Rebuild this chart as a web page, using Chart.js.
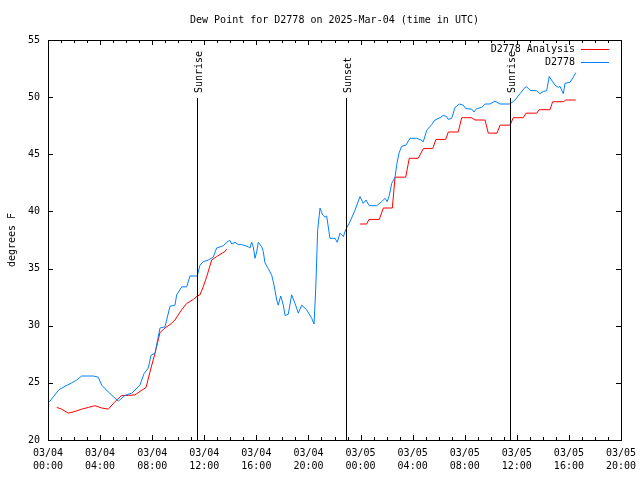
<!DOCTYPE html>
<html>
<head>
<meta charset="utf-8">
<script src="https://cdn.jsdelivr.net/npm/chart.js@4/dist/chart.umd.min.js"></script>
<style>
  html, body { margin: 0; padding: 0; background: #fff; }
  #wrap { width: 640px; height: 480px; }
</style>
</head>
<body>
<div id="wrap"><canvas id="dewChart" width="640" height="480"></canvas></div>
<script>
// hours since 03/04 00:00 UTC
var obsHours = [0.08, 0.84, 1.31, 1.82, 2.2, 2.59, 3.48, 3.86, 4.12, 4.63, 5.4, 5.91, 6.43, 7.06, 7.37, 7.7, 7.91, 8.22, 8.6, 8.98,
    9.37, 9.75, 9.88, 10.27, 10.65, 10.9, 11.46, 11.67, 11.92, 12.31, 12.69, 12.95, 13.21, 13.46, 13.84, 13.98, 14.11, 14.36, 14.61, 14.87,
    15.13, 15.38, 15.51, 15.64, 15.76, 15.9, 16.03, 16.15, 16.41, 16.53, 16.66, 16.92, 17.18, 17.3, 17.43, 17.56, 17.68, 17.87, 18.07, 18.2,
    18.45, 18.71, 18.97, 19.22, 19.48, 19.86, 20.25, 20.43, 20.56, 20.71, 20.89, 21.09, 21.27, 21.4, 21.65, 22.04, 22.21, 22.42, 22.68, 22.86,
    23.19, 23.57, 23.96, 24.21, 24.42, 24.67, 25.24, 25.62, 25.88, 26.05, 26.21, 26.39, 26.65, 26.78, 26.95, 27.16, 27.49, 27.8, 28.31, 28.64,
    28.82, 29.08, 29.46, 29.72, 30.1, 30.35, 30.61, 30.74, 31.0, 31.25, 31.58, 31.89, 32.07, 32.53, 32.71, 32.92, 33.3, 33.56, 33.94, 34.32,
    34.71, 35.48, 35.86, 36.24, 36.63, 36.76, 37.01, 37.53, 37.78, 38.03, 38.29, 38.49, 38.75, 38.93, 39.18, 39.31, 39.57, 39.7, 40.08, 40.34,
    40.52];
var obsDew = [23.3, 24.4, 24.7, 25.0, 25.25, 25.6, 25.6, 25.5, 24.8, 24.2, 23.4, 23.9, 24.1, 24.8, 25.8, 26.3, 27.4, 27.6, 29.8, 29.9,
    31.7, 31.8, 32.7, 33.4, 33.4, 34.35, 34.35, 35.3, 35.6, 35.75, 36.0, 36.8, 36.9, 37.0, 37.4, 37.45, 37.15, 37.3, 37.1, 37.1,
    37.0, 36.9, 36.8, 37.3, 36.9, 35.9, 36.5, 37.3, 36.9, 36.5, 35.5, 35.0, 34.4, 33.85, 33.1, 32.25, 31.8, 32.6, 31.8, 30.9,
    31.0, 32.7, 31.95, 31.1, 31.8, 31.4, 30.65, 30.15, 33.3, 38.4, 40.3, 39.7, 39.5, 39.6, 37.65, 37.65, 37.3, 38.1, 37.8, 38.4,
    39.1, 40.1, 41.3, 40.7, 41.0, 40.5, 40.5, 40.85, 41.15, 40.85, 41.4, 42.45, 43.0, 44.1, 45.1, 45.7, 45.8, 46.4, 46.4, 46.25,
    46.1, 47.1, 47.6, 48.0, 48.2, 48.4, 48.3, 48.05, 48.15, 49.1, 49.4, 49.3, 49.0, 48.95, 48.7, 49.0, 49.1, 49.4, 49.4, 49.65,
    49.4, 49.4, 49.75, 50.3, 50.85, 50.9, 50.6, 50.55, 50.3, 50.5, 50.55, 51.8, 51.35, 51.05, 50.85, 50.95, 50.3, 51.2, 51.3, 51.75,
    52.15];

var anaHours = [0.67, 1.05, 1.56, 2.07, 2.59, 3.09, 3.61, 4.12, 4.63, 5.14, 5.66, 6.17, 6.68, 7.06, 7.53, 7.91, 8.22, 8.6, 8.98, 9.37,
    9.75, 10.14, 10.65, 11.16, 11.46, 11.67, 11.92, 12.19, 12.57, 12.95, 13.59, 13.72, 18.0,
    23.96, 24.47, 24.65, 25.44, 25.75, 26.44, 26.65, 27.47, 27.74, 28.43, 28.82, 29.54, 29.79, 30.54, 30.74, 31.5, 31.77, 32.53,
    32.79, 33.56, 33.81, 34.48, 34.71, 35.48, 35.73, 36.5, 36.7, 37.53, 37.73, 38.55, 38.75, 39.57, 39.77, 40.52];
var anaDew = [22.85, 22.7, 22.35, 22.5, 22.7, 22.85, 23.0, 22.8, 22.7, 23.35, 23.9, 23.9, 23.95, 24.25, 24.6, 26.3, 27.6, 29.4, 29.8, 30.1,
    30.5, 31.2, 31.95, 32.3, 32.6, 32.7, 33.4, 34.3, 35.75, 36.05, 36.5, 36.7, null,
    38.9, 38.9, 39.3, 39.3, 40.3, 40.3, 43.0, 43.0, 44.65, 44.65, 45.5, 45.5, 46.3, 46.3, 46.95, 46.95, 48.2, 48.2,
    48.0, 48.0, 46.85, 46.85, 47.55, 47.55, 48.2, 48.2, 48.6, 48.6, 48.9, 48.9, 49.6, 49.6, 49.75, 49.75];

var tickDates = ['03/04', '03/04', '03/04', '03/04', '03/04', '03/04', '03/05', '03/05', '03/05', '03/05', '03/05', '03/05'];
var tickTimes = ['00:00', '04:00', '08:00', '12:00', '16:00', '20:00', '00:00', '04:00', '08:00', '12:00', '16:00', '20:00'];

var sunHours = [11.45, 22.85, 35.5];
var sunLabels = ['Sunrise', 'Sunset', 'Sunrise'];

var seriesNames = ['D2778 Analysis', 'D2778'];
var seriesColors = ['#ff0000', '#0080ff'];

var chartTitle = 'Dew Point for D2778 on 2025-Mar-04 (time in UTC)';
var monoFont = '"DejaVu Sans Mono", "Liberation Mono", monospace';

function toPoints(xs, ys){
    var pts = [];
    for (var i = 0; i < xs.length; i++) {
        pts.push({x: xs[i], y: ys[i]});
    }
    return pts;
}

// border, inward ticks, sun lines, legend, title
var gnuplotBits = {
    id: 'gnuplotBits',
    afterDatasetsDraw: function(chart){
        var ctx = chart.ctx;
        var a = chart.chartArea;
        var xs = chart.scales.x;
        var ys = chart.scales.y;
        ctx.save();
        ctx.strokeStyle = '#000';
        ctx.lineWidth = 1;

        // sunrise / sunset markers
        ctx.font = '10px ' + monoFont;
        ctx.fillStyle = '#000';
        for (var s = 0; s < sunHours.length; s++) {
            var sx = Math.round(xs.getPixelForValue(sunHours[s])) + 0.5;
            ctx.beginPath();
            ctx.moveTo(sx, a.top + 58);
            ctx.lineTo(sx, a.bottom);
            ctx.stroke();
            ctx.save();
            ctx.translate(sx + 4, a.top + 53);
            ctx.rotate(-Math.PI / 2);
            ctx.textAlign = 'left';
            ctx.textBaseline = 'alphabetic';
            ctx.fillText(sunLabels[s], 0, 0);
            ctx.restore();
        }

        // frame
        ctx.strokeRect(Math.round(a.left) + 0.5, Math.round(a.top) + 0.5,
            Math.round(a.right - a.left), Math.round(a.bottom - a.top));

        // x ticks, hourly minor, 4-hourly major
        ctx.beginPath();
        for (var h = xs.min; h <= xs.max; h++) {
            var px = Math.round(xs.getPixelForValue(h)) + 0.5;
            var len = (h % 4 === 0) ? 5 : 3;
            ctx.moveTo(px, a.bottom);
            ctx.lineTo(px, a.bottom - len);
            ctx.moveTo(px, a.top);
            ctx.lineTo(px, a.top + len);
        }
        // y ticks both sides
        for (var v = ys.min; v <= ys.max; v += 5) {
            var py = Math.round(ys.getPixelForValue(v)) + 0.5;
            ctx.moveTo(a.left, py);
            ctx.lineTo(a.left + 5, py);
            ctx.moveTo(a.right, py);
            ctx.lineTo(a.right - 5, py);
        }
        ctx.stroke();

        // legend, top right inside the plot
        var order = [0, 1];
        for (var k = 0; k < order.length; k++) {
            var ly = a.top + 9.5 + k * 13;
            ctx.textAlign = 'right';
            ctx.textBaseline = 'middle';
            ctx.fillStyle = '#000';
            ctx.fillText(seriesNames[order[k]], a.right - 46, ly);
            ctx.strokeStyle = seriesColors[order[k]];
            ctx.beginPath();
            ctx.moveTo(a.right - 40, ly);
            ctx.lineTo(a.right - 12, ly);
            ctx.stroke();
        }

        // title
        ctx.fillStyle = '#000';
        ctx.textAlign = 'center';
        ctx.textBaseline = 'middle';
        ctx.fillText(chartTitle, (a.left + a.right) / 2, 20);
        ctx.restore();
    }
};

var ctx = document.getElementById('dewChart').getContext('2d');
var dewChart = new Chart(ctx, {
    type: 'line',
    data: {
        datasets: [{
            label: seriesNames[1],
            data: toPoints(obsHours, obsDew),
            borderColor: seriesColors[1],
            borderWidth: 1,
            pointRadius: 0,
            tension: 0,
            fill: false
        }, {
            label: seriesNames[0],
            data: toPoints(anaHours, anaDew),
            borderColor: seriesColors[0],
            borderWidth: 1,
            pointRadius: 0,
            tension: 0,
            fill: false,
            spanGaps: false
        }]
    },
    options: {
        responsive: false,
        animation: false,
        devicePixelRatio: 1,
        layout: { padding: { left: 0, right: 19, top: 40, bottom: 0 } },
        plugins: {
            legend: { display: false },
            title: { display: false },
            tooltip: { enabled: false }
        },
        scales: {
            x: {
                type: 'linear',
                min: 0,
                max: 44,
                grid: { display: false, drawTicks: false },
                border: { display: false },
                ticks: {
                    stepSize: 4,
                    autoSkip: false,
                    maxRotation: 0,
                    padding: 7,
                    color: '#000',
                    font: { family: monoFont, size: 10, lineHeight: 1.3 },
                    callback: function(value, index){
                        return [tickDates[index], tickTimes[index]];
                    }
                },
                afterFit: function(scale){
                    scale.height = 40;
                    scale.paddingLeft = 0;
                    scale.paddingRight = 0;
                }
            },
            y: {
                min: 20,
                max: 55,
                grid: { display: false, drawTicks: false },
                border: { display: false },
                ticks: {
                    stepSize: 5,
                    padding: 8,
                    color: '#000',
                    font: { family: monoFont, size: 10 }
                },
                title: {
                    display: true,
                    text: 'degrees F',
                    color: '#000',
                    padding: { top: 6, bottom: 0 },
                    font: { family: monoFont, size: 10 }
                },
                afterFit: function(scale){ scale.width = 48; }
            }
        }
    },
    plugins: [gnuplotBits]
});
</script>
</body>
</html>
